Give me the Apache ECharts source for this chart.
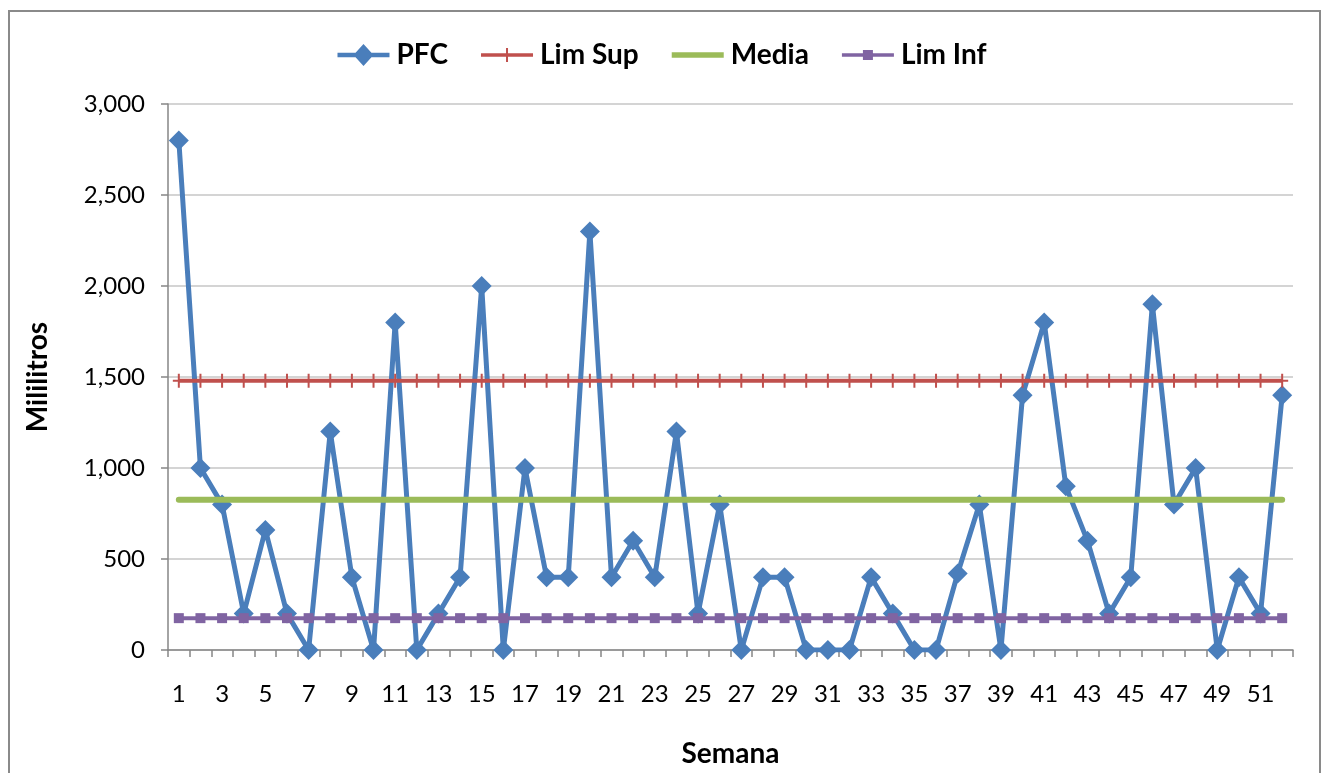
<!DOCTYPE html>
<html>
<head>
<meta charset="utf-8">
<script src="https://cdn.jsdelivr.net/npm/echarts@6/dist/echarts.min.js"></script>
<style>
  html, body { margin: 0; padding: 0; background: #fff; }
  #wrap { position: relative; width: 1324px; height: 773px; overflow: hidden; }
  #frame { position: absolute; left: 8px; top: 10px; width: 1313px; height: 800px;
           border: 2px solid #8a8a8a; box-sizing: border-box; }
  #chart { position: absolute; left: 0; top: 0; width: 1324px; height: 773px; }
</style>
</head>
<body>
<div id="wrap">
  <div id="frame"></div>
  <div id="chart"></div>
</div>
<script>
// Weeks 1..52
const semanas = Array.from({ length: 52 }, (_, i) => String(i + 1));

// Weekly PFC volume (ml)
const pfc = [
  2800, 1000, 800, 200, 660, 200, 0, 1200, 400, 0,
  1800, 0, 200, 400, 2000, 0, 1000, 400, 400, 2300,
  400, 600, 400, 1200, 200, 800, 0, 400, 400, 0,
  0, 0, 400, 200, 0, 0, 420, 800, 0, 1400,
  1800, 900, 600, 200, 400, 1900, 800, 1000, 0, 400,
  200, 1400
];

// Control limits and centre line (ml)
const limSupValor = 1480;
const mediaValor = 826;
const limInfValor = 175;

const limSup = semanas.map(() => limSupValor);
const media = semanas.map(() => mediaValor);
const limInf = semanas.map(() => limInfValor);

// Y axis ticks
const yMin = 0, yMax = 3000, yStep = 500;

const FONT = 'Lato, "Open Sans", sans-serif';
const C_BLUE = '#4a7ebb', C_RED = '#c0504d', C_GREEN = '#9bbb59', C_PURPLE = '#8064a2';

// Marker shapes
const plusPath = 'path://M5,0h2v6h5v2h-5v6h-2v-6h-5v-2h5z';

// Legend keys: a short line with the series marker in the middle (52 px wide)
const keyPFC = 'path://M0,8.75h52v4.5h-52z M26,0l10,11l-10,11l-10,-11z';
const keySup = 'path://M0,5.25h52v3.5h-52z M25,0h2v14h-2z';
const keyMedia = 'path://M0,0h52v5.5h-52z';
const keyInf = 'path://M0,3.25h52v3.5h-52z M21,0h10v10h-10z';

const chart = echarts.init(document.getElementById('chart'), null, { renderer: 'canvas' });
chart.setOption({
  animation: false,
  backgroundColor: 'transparent',
  textStyle: { fontFamily: FONT },
  legend: {
    top: 36,
    left: 'center',
    itemWidth: 52,
    itemHeight: 22,
    itemGap: 33,
    textStyle: { fontFamily: FONT, fontSize: 28, fontWeight: 'bold', color: '#000', padding: [0, 0, 0, 2] },
    data: [
      { name: 'PFC', icon: keyPFC },
      { name: 'Lim Sup', icon: keySup },
      { name: 'Media', icon: keyMedia },
      { name: 'Lim Inf', icon: keyInf }
    ]
  },
  grid: { left: 168, right: 31, top: 104, bottom: 121, containLabel: false },
  xAxis: {
    type: 'category',
    data: semanas,
    boundaryGap: true,
    name: 'Semana',
    nameLocation: 'middle',
    nameGap: 90,
    nameTextStyle: { fontFamily: FONT, fontSize: 28, fontWeight: 'bold', color: '#000' },
    axisLine: { lineStyle: { color: '#868686', width: 1.5 } },
    axisTick: { show: true, interval: 0, length: 7, lineStyle: { color: '#868686', width: 1.5 } },
    axisLabel: { interval: 1, margin: 32, fontSize: 24, color: '#000', fontFamily: FONT },
    splitLine: { show: false }
  },
  yAxis: {
    type: 'value',
    min: yMin,
    max: yMax,
    interval: yStep,
    name: 'Mililitros',
    nameLocation: 'middle',
    nameGap: 116,
    nameRotate: 90,
    nameTextStyle: { fontFamily: FONT, fontSize: 28, fontWeight: 'bold', color: '#000' },
    axisLine: { show: true, lineStyle: { color: '#868686', width: 1.5 } },
    axisTick: { show: true, length: 7, lineStyle: { color: '#868686', width: 1.5 } },
    axisLabel: {
      margin: 23, fontSize: 24, color: '#000', fontFamily: FONT,
      formatter: v => v.toLocaleString('en-US')
    },
    splitLine: { show: true, lineStyle: { color: '#c6c6c6', width: 1.5 } }
  },
  series: [
    {
      name: 'PFC', type: 'line', data: pfc,
      symbol: 'diamond', symbolSize: [20, 20], showAllSymbol: true,
      lineStyle: { color: C_BLUE, width: 5 },
      itemStyle: { color: C_BLUE },
      z: 2
    },
    {
      name: 'Lim Sup', type: 'line', data: limSup,
      symbol: plusPath, symbolSize: [12, 14], showAllSymbol: true,
      lineStyle: { color: C_RED, width: 4 },
      itemStyle: { color: C_RED },
      z: 3
    },
    {
      name: 'Media', type: 'line', data: media,
      showSymbol: false, symbol: 'none',
      lineStyle: { color: C_GREEN, width: 6, cap: 'round' },
      itemStyle: { color: C_GREEN },
      z: 4
    },
    {
      name: 'Lim Inf', type: 'line', data: limInf,
      symbol: 'rect', symbolSize: 10, showAllSymbol: true,
      lineStyle: { color: C_PURPLE, width: 4 },
      itemStyle: { color: C_PURPLE },
      z: 5
    }
  ]
});
</script>
</body>
</html>
